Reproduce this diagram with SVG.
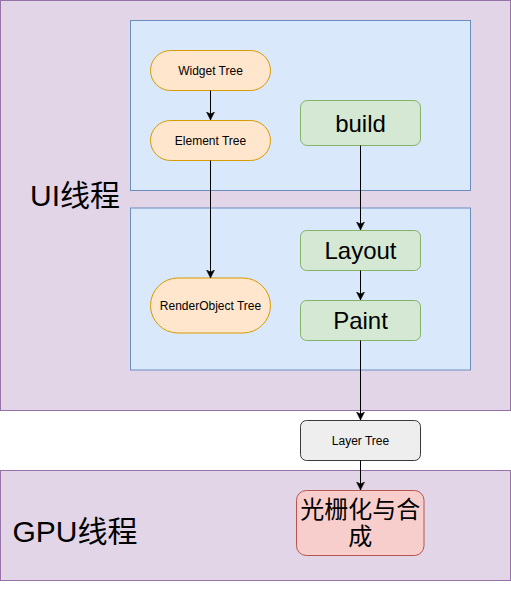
<svg xmlns="http://www.w3.org/2000/svg" width="511" height="589" viewBox="0 0 511 589">
<style>
  .thread { fill: #e1d5e7; stroke: #9673a6; stroke-width: 1; }
  .stage { fill: #dae8fc; stroke: #6c8ebf; stroke-width: 1; }
  .tree { fill: #ffe6cc; stroke: #d79b00; stroke-width: 1; }
  .step { fill: #d5e8d4; stroke: #82b366; stroke-width: 1; }
  .layer { fill: #eeeeee; stroke: #36393d; stroke-width: 1; }
  .raster { fill: #f8cecc; stroke: #b85450; stroke-width: 1; }
  text { font-family: "Liberation Sans", Arial, "Noto Sans CJK SC", sans-serif; fill: #000000; text-anchor: middle; }
  .small { font-size: 12px; }
  .big { font-size: 24px; }
  .title { font-size: 30px; }
  .cjk { font-family: "Liberation Sans", "Noto Sans CJK SC", sans-serif; }
  .edge { fill: none; stroke: #000000; stroke-width: 1; }
</style>
<defs>
  <marker id="arrow" markerUnits="userSpaceOnUse" markerWidth="10" markerHeight="10" refX="8" refY="4" orient="auto">
    <path d="M0,0 L8,4 L0,8 L2,4 Z" fill="#000000" stroke="#000000" stroke-width="0.5"/>
  </marker>
</defs>

<g id="ui-thread">
  <rect class="thread" x="0.5" y="0.5" width="510" height="410"/>
  <text class="title cjk" x="75" y="206">UI线程</text>
</g>
<g id="gpu-thread">
  <rect class="thread" x="0.5" y="470.5" width="510" height="110"/>
  <text class="title cjk" x="75" y="542">GPU线程</text>
</g>
<g id="build-stage">
  <rect class="stage" x="130.5" y="20.5" width="340" height="170"/>
</g>
<g id="layout-stage">
  <rect class="stage" x="130.5" y="208" width="340" height="162"/>
</g>

<g id="widget-tree">
  <rect class="tree" x="150.5" y="50.5" width="120" height="40" rx="20" ry="20"/>
  <text class="small" x="210.5" y="75">Widget Tree</text>
</g>
<g id="element-tree">
  <rect class="tree" x="150.5" y="120.5" width="120" height="40" rx="20" ry="20"/>
  <text class="small" x="210.5" y="145">Element Tree</text>
</g>
<g id="renderobject-tree">
  <rect class="tree" x="150.5" y="278" width="120" height="55" rx="27.5" ry="27.5"/>
  <text class="small" x="210.5" y="310">RenderObject Tree</text>
</g>
<g id="build">
  <rect class="step" x="300.5" y="100.5" width="120" height="45" rx="6.75" ry="6.75"/>
  <text class="big" x="360.5" y="132">build</text>
</g>
<g id="layout">
  <rect class="step" x="300.5" y="230.5" width="120" height="40" rx="6" ry="6"/>
  <text class="big" x="360.5" y="259">Layout</text>
</g>
<g id="paint">
  <rect class="step" x="300.5" y="300.5" width="120" height="40" rx="6" ry="6"/>
  <text class="big" x="360.5" y="329">Paint</text>
</g>
<g id="layer-tree">
  <rect class="layer" x="300.5" y="420.5" width="120" height="40" rx="6" ry="6"/>
  <text class="small" x="360.5" y="445">Layer Tree</text>
</g>
<g id="raster-composite">
  <rect class="raster" x="296.5" y="490.5" width="127.5" height="65" rx="9.75" ry="9.75"/>
  <text class="big cjk" x="360.25" y="518">光栅化与合</text>
  <text class="big cjk" x="360.25" y="545">成</text>
</g>

<g id="connectors">
  <path class="edge" d="M210.5,90.5 L210.5,120" marker-end="url(#arrow)"/>
  <path class="edge" d="M210.5,160.5 L210.5,278" marker-end="url(#arrow)"/>
  <path class="edge" d="M360.5,145.5 L360.5,230" marker-end="url(#arrow)"/>
  <path class="edge" d="M360.5,270.5 L360.5,300" marker-end="url(#arrow)"/>
  <path class="edge" d="M360.5,340.5 L360.5,420" marker-end="url(#arrow)"/>
  <path class="edge" d="M360.5,460.5 L360.5,490" marker-end="url(#arrow)"/>
</g>
</svg>
